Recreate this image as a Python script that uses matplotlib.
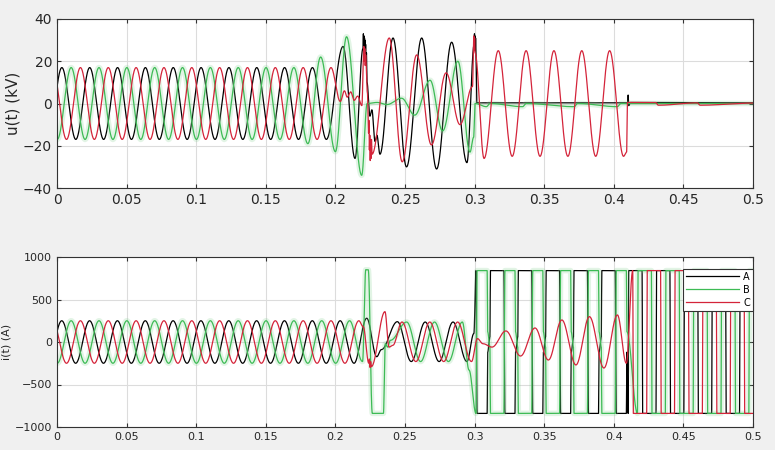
import matplotlib.pyplot as plt
import numpy as np

# ── Waveform data ────────────────────────────────────────────────────────────
# Each trace is a list of extrema (time s, value); consecutive extrema are
# joined by a half-cosine. Steady sections: (first extremum, last extremum, amp, sign).
COL_A, COL_B, COL_C = "#000000", "#3dbb55", "#d4243a"

# voltage, kV
ua_steady = (-0.0065, 0.1935, 17, -1)
ua_t = [0.2055, 0.2141, 0.2198, 0.2201, 0.2203, 0.2205, 0.2207, 0.2209, 0.2211, 0.2213, 0.2215,
        0.2217, 0.2220, 0.2223, 0.2227, 0.2248, 0.2262, 0.2285, 0.2298, 0.2320, 0.2414, 0.2511,
        0.2620, 0.2727, 0.2835, 0.2945, 0.2997, 0.2999, 0.3001, 0.3003, 0.3005, 0.3007, 0.3010,
        0.3016, 0.4100, 0.4103, 0.4107, 0.4120, 0.5000]
ua_v = [27, -26, 26, 33, 25, 32, 24, 31, 22, 30, 21, 28, 18, 24, 10, -6, -3, -18, -15, -24, 31,
        -30, 31, -31, 29, -28, 28, 33, 26, 32, 25, 31, 24, 0.3, 0.3, 4, -1, 0.5, 0.3]

ub_steady = (0.00017, 0.17017, 17, -1)
ub_t = [0.1802, 0.1894, 0.2000, 0.2080, 0.2189, 0.2228, 0.2300, 0.2370, 0.2475, 0.2570, 0.2680,
        0.2770, 0.2880, 0.2967, 0.2993, 0.3003, 0.3085, 0.3110, 0.3345, 0.3370, 0.3715, 0.3740,
        0.4025, 0.4050, 0.5000]
ub_v = [-19, 22, -22.8, 31.6, -34, 0, 0.5, -0.5, 2.5, -5.5, 11, -13, 20, -23, -16, 0, -1.5, 0,
        -1.5, 0, -1.5, 0, -1.5, 0, 0]

uc_steady = (-0.00317, 0.19683, 17, 1)
uc_t = [0.2035, 0.2065, 0.2085, 0.2110, 0.2135, 0.2160, 0.2190, 0.2205, 0.2208, 0.2211, 0.2214,
        0.2217, 0.2230, 0.2238, 0.2241, 0.2244, 0.2247, 0.2250, 0.2253, 0.2256, 0.2259, 0.2263,
        0.2387, 0.2480, 0.2584, 0.2690, 0.2795, 0.2895, 0.2985, 0.2994, 0.2997, 0.3000, 0.3003,
        0.3068]
uc_v = [1, 6, 3, 5.5, 1.5, 3.5, -1, 27, 20, 26, 18, 23, 5, -14, -8, -22, -15, -27, -18, -26,
        -17, -24, 31, -27.6, 23, -19.6, 14.5, -10, 8, 32, 25, 31, 24, -26]
uc_steady2 = (0.317, 0.407, 25, 1)
uc_t2 = [0.4092, 0.4098, 0.4300, 0.4320, 0.4600, 0.4620, 0.5000]
uc_v2 = [-23, 0.5, 0.5, -0.8, 0.3, -0.8, 0.2]

# current, A
ia_steady = (-0.0066, 0.2134, 250, -1)
ia_t = [0.2225, 0.2297, 0.2330, 0.2445, 0.2545, 0.2645, 0.2745, 0.2845, 0.2945, 0.2995]
ia_v = [280, -173, -90, 239, -230, 235, -230, 235, -230, 100]
# one square period of phase A between 0.30 and 0.41 (offset s, value A)
sq_start = [0.2914, 0.3114, 0.3314, 0.3514, 0.3714, 0.3914]
sq_off = [0.0, 0.0096, 0.0104, 0.0176, 0.0180, 0.0196]
sq_val = [840, 840, -840, -840, -120, 60]
# 50 % square waves after 0.41 (rising edge times, falling edge times)
ia_rise = [0.4105, 0.4305, 0.4505, 0.4705, 0.4905]
ia_fall = [0.4205, 0.4405, 0.4605, 0.4805]
ib_rise = [0.4172, 0.4372, 0.4572, 0.4772, 0.4972]
ib_fall = [0.4272, 0.4472, 0.4672, 0.4872]
ic_rise = [0.4238, 0.4438, 0.4638, 0.4838]
ic_fall = [0.4138, 0.4338, 0.4538, 0.4738, 0.4938]

ib_steady = (0.00017, 0.21017, 250, -1)
ib_t = [0.2195, 0.2218, 0.2236, 0.2265, 0.2345, 0.2358, 0.2375, 0.2395, 0.2512, 0.2612, 0.2712,
        0.2812, 0.2912, 0.2960]
ib_v = [-230, 850, 850, -840, -840, -20, -60, 20, 235, -230, 235, -230, 235, -330]

ic_steady = (-0.00317, 0.21683, 250, 1)
ic_t = [0.2200, 0.2240, 0.2244, 0.2249, 0.2253, 0.2258, 0.2356, 0.2385, 0.2412, 0.2478, 0.2578,
        0.2678, 0.2778, 0.2878, 0.2978, 0.3020, 0.3060, 0.3125, 0.3225, 0.3330, 0.3434, 0.3530,
        0.3627, 0.3728, 0.3825, 0.3929, 0.4026, 0.4090]
ic_v = [180, -250, -200, -300, -230, -290, 357, -60, -40, 235, -230, 235, -230, 235, -230, 40,
        -20, -60, 130, -165, 165, -212, 259, -270, 298, -306, 318, -250]


# ── Helpers ──────────────────────────────────────────────────────────────────
def steady(spec):
    t0, t1, amp, sign = spec
    n = int(round((t1 - t0) / 0.01)) + 1
    t = t0 + 0.01 * np.arange(n)
    v = amp * sign * (-1.0) ** np.arange(n)
    return list(t), list(v)


def edges(rise, fall, level=840, ramp=0.0004):
    t, v = [], []
    for r in rise:
        t += [r - ramp / 2, r + ramp / 2]
        v += [-level, level]
    for f in fall:
        t += [f - ramp / 2, f + ramp / 2]
        v += [level, -level]
    return t, v


def build(*parts):
    t = np.concatenate([np.asarray(p[0], float) for p in parts])
    v = np.concatenate([np.asarray(p[1], float) for p in parts])
    order = np.argsort(t)
    return t[order], v[order]


def render(kt, kv, tt):
    i = np.clip(np.searchsorted(kt, tt) - 1, 0, len(kt) - 2)
    s = np.clip((tt - kt[i]) / (kt[i + 1] - kt[i]), 0, 1)
    return kv[i] + (kv[i + 1] - kv[i]) * (1 - np.cos(np.pi * s)) / 2


tt = np.linspace(0, 0.5, 40001)

sq_t = [s + o for s in sq_start for o in sq_off]
sq_v = sq_val * len(sq_start)
sq_t, sq_v = zip(*[(a, b) for a, b in zip(sq_t, sq_v) if 0.3 <= a <= 0.4102])

u = {
    "A": build(steady(ua_steady), (ua_t, ua_v)),
    "B": build(steady(ub_steady), (ub_t, ub_v)),
    "C": build(steady(uc_steady), (uc_t, uc_v), steady(uc_steady2), (uc_t2, uc_v2)),
}
i = {
    "A": build(steady(ia_steady), (ia_t, ia_v), (sq_t, sq_v), edges(ia_rise, ia_fall)),
    "B": build(steady(ib_steady), (ib_t, ib_v), (sq_t, [-x for x in sq_v]), edges(ib_rise, ib_fall)),
    "C": build(steady(ic_steady), (ic_t, ic_v), edges(ic_rise, ic_fall)),
}

# ── Figure ───────────────────────────────────────────────────────────────────
fig = plt.figure(figsize=(7.75, 4.5), dpi=100, facecolor="#f0f0f0")
ax1 = fig.add_axes([57 / 775, 1 - 188 / 450, 696 / 775, 169 / 450])
ax2 = fig.add_axes([57 / 775, 1 - 427 / 450, 696 / 775, 170 / 450])

cols = {"A": COL_A, "B": COL_B, "C": COL_C}
for ax, data in ((ax1, u), (ax2, i)):
    for ph in "ABC":
        kt, kv = data[ph]
        y = render(kt, kv, tt)
        if ph == "B":
            ax.plot(tt, y, color="#7fd08c", lw=4, alpha=0.22, solid_capstyle="butt")
        ax.plot(tt, y, color=cols[ph], lw=0.9, label=ph)

for ax, lim, step, fs in ((ax1, 40, 20, 10), (ax2, 1000, 500, 8)):
    ax.set_xlim(0, 0.5)
    ax.set_ylim(-lim, lim)
    ax.set_yticks(np.arange(-lim, lim + 1, step))
    ax.set_xticks(np.arange(0, 0.501, 0.05))
    ax.set_xticklabels(["0", "0.05", "0.1", "0.15", "0.2", "0.25", "0.3", "0.35", "0.4", "0.45", "0.5"])
    ax.grid(True, color="#dcdcdc", lw=0.8)
    ax.set_axisbelow(True)
    ax.tick_params(direction="in", top=True, right=True, labelsize=fs, length=3, color="#333333",
                   labelcolor="#262626")
    for s in ax.spines.values():
        s.set_color("#333333")
        s.set_linewidth(0.8)

ax1.set_ylabel("u(t) (kV)", fontsize=11, color="#262626", labelpad=2)
ax2.set_ylabel("i(t) (A)", fontsize=8, color="#262626", labelpad=2)

leg = ax2.legend(loc="upper right", bbox_to_anchor=(1.0, 0.93), fontsize=7, handlelength=5.5,
                 borderaxespad=0, frameon=True, fancybox=False, labelspacing=0.3,
                 handletextpad=0.4, borderpad=0.3)
leg.get_frame().set_edgecolor("#333333")
leg.get_frame().set_linewidth(0.8)
leg.get_frame().set_alpha(1)

fig.savefig("out.png", dpi=100, facecolor=fig.get_facecolor())
